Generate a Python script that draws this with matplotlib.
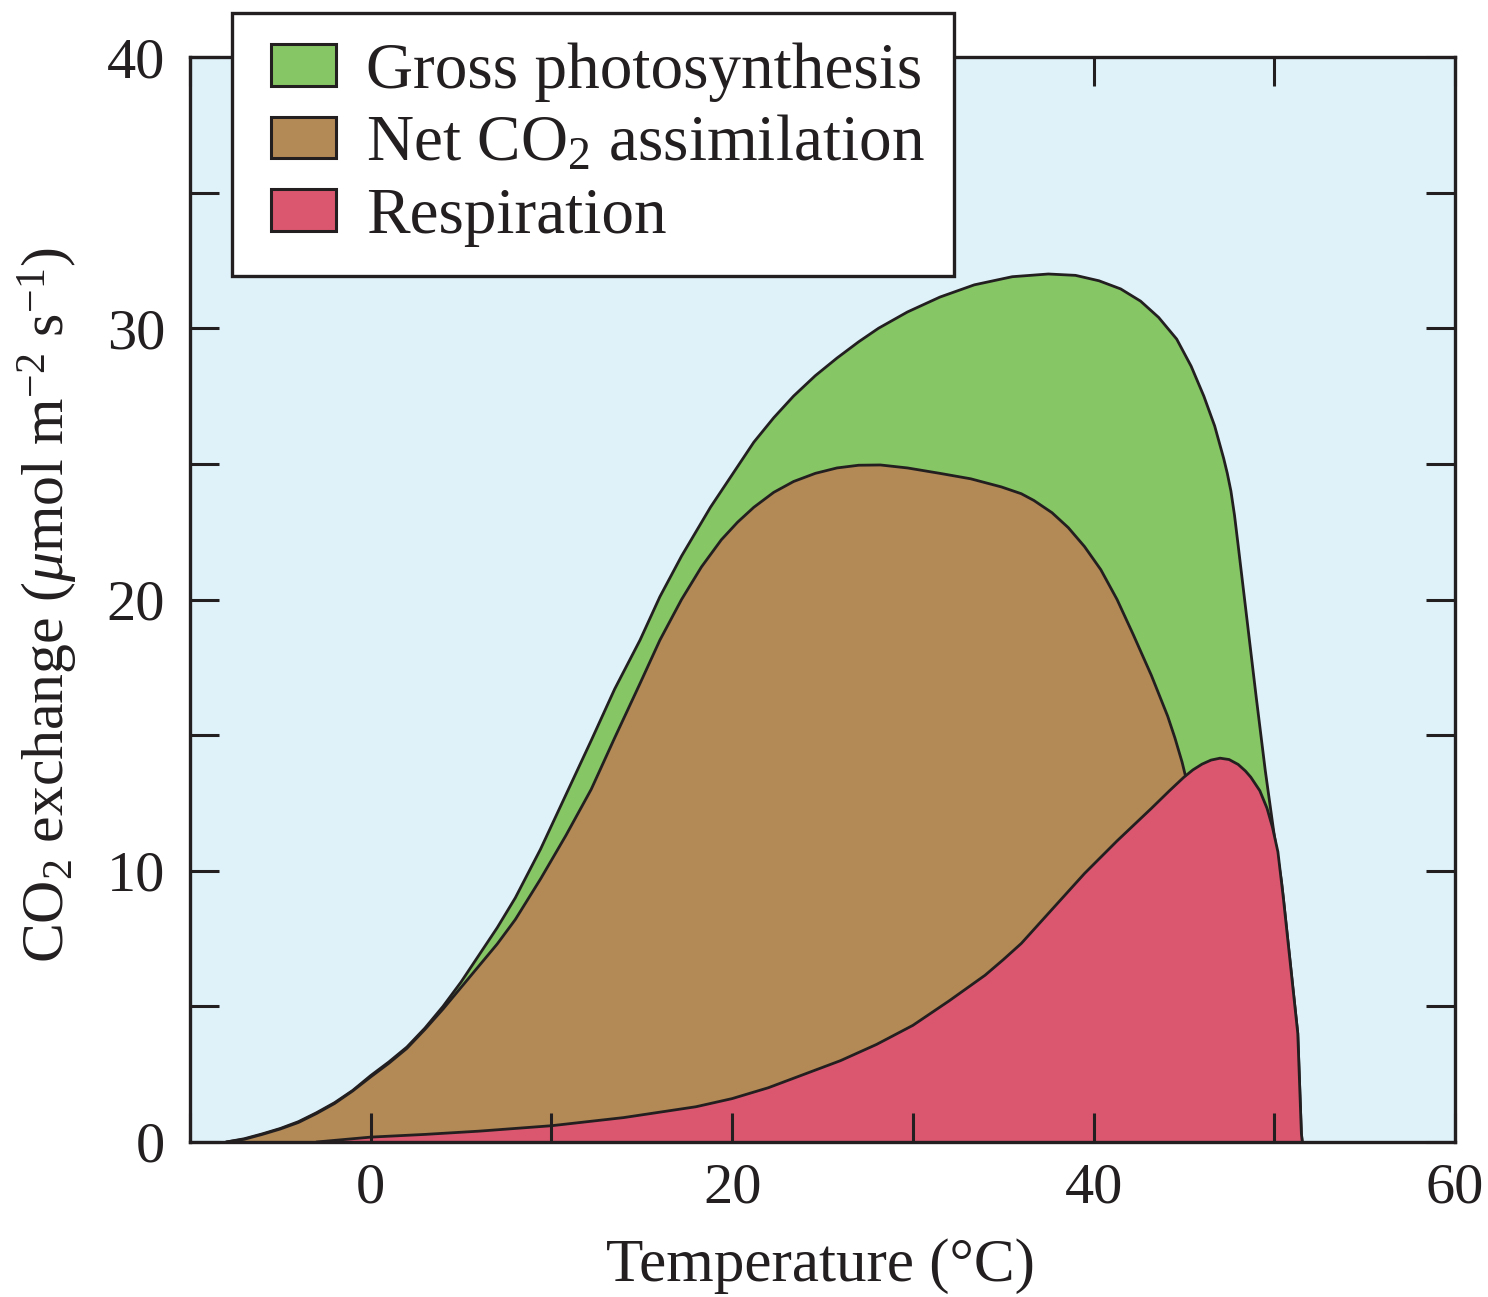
import matplotlib
matplotlib.use("Agg")
import matplotlib.pyplot as plt
from matplotlib.patches import Patch
from matplotlib.legend_handler import HandlerPatch
from matplotlib.ticker import MultipleLocator

plt.rcParams['font.family'] = ['Liberation Serif', 'DejaVu Serif']
plt.rcParams['mathtext.fontset'] = 'custom'
plt.rcParams['mathtext.rm'] = 'Liberation Serif'
plt.rcParams['mathtext.it'] = 'Liberation Serif:italic'

# ---- data ----
gross_t = [-8, -7, -6, -5, -4, -3, -2, -1, 0, 1, 2, 3, 4, 5, 6, 7, 8, 9.4, 10.8, 12.2, 13.5,
           14.9, 16, 17.2, 18.8, 20, 21.2, 22.3, 23.4, 24.6, 25.8, 27, 28.1, 29.7, 31.5, 33.4,
           35.5, 37.5, 39.0, 40.3, 41.5, 42.6, 43.6, 44.6, 45.4, 46.1, 46.7, 47.2, 47.4, 47.6,
           47.8, 48.0, 48.5, 49.0, 49.5, 50.0, 50.4, 50.5, 50.9, 51.3, 51.5, 51.55]
gross_v = [0, 0.12, 0.3, 0.5, 0.75, 1.08, 1.45, 1.9, 2.45, 2.95, 3.5, 4.2, 5.0, 5.9, 6.9, 7.9,
           9.0, 10.8, 12.8, 14.8, 16.7, 18.5, 20.1, 21.6, 23.4, 24.6, 25.8, 26.7, 27.5, 28.25,
           28.9, 29.5, 30.0, 30.6, 31.15, 31.6, 31.9, 32.0, 31.95, 31.75, 31.45, 31.0, 30.4,
           29.6, 28.6, 27.5, 26.4, 25.2, 24.65, 24.0, 23.1, 22.0, 19.2, 16.4, 13.7, 11.3, 9.6,
           9.0, 6.5, 4.0, 0.3, 0]

net_t = [-8, -7, -6, -5, -4, -3, -2, -1, 0, 1, 2, 3, 4, 5, 6, 7, 8, 9.4, 10.8, 12.2, 13.5, 14.9,
         16, 17.2, 18.3, 19.4, 20.3, 21.2, 22.3, 23.4, 24.6, 25.8, 27, 28.2, 29.7, 31.5, 33.2,
         34.9, 36.0, 36.7, 37.7, 38.6, 39.5, 40.4, 41.3, 42.2, 43.2, 44.1, 44.5, 44.9, 46, 47,
         48, 49, 49.5]
net_v = [0, 0.1, 0.28, 0.48, 0.72, 1.05, 1.42, 1.88, 2.4, 2.9, 3.45, 4.15, 4.9, 5.7, 6.5, 7.3,
         8.2, 9.7, 11.3, 13.0, 14.9, 16.9, 18.5, 20.0, 21.2, 22.2, 22.85, 23.4, 23.95, 24.35,
         24.65, 24.85, 24.95, 24.96, 24.85, 24.65, 24.45, 24.15, 23.9, 23.65, 23.2, 22.65,
         21.95, 21.1, 20.0, 18.7, 17.2, 15.7, 14.9, 14.0, 11.0, 8.0, 5.0, 2.0, 0]

resp_t = [-3, -2, -1, 0, 3, 6, 10, 14, 18, 20, 22, 24, 26, 28, 30, 32, 34, 35, 36, 37.6, 39.5,
          41.3, 43.2, 44.2, 45.0, 45.5, 46.0, 46.5, 47.0, 47.5, 48.0, 48.4, 48.7, 49.2, 49.6,
          49.9, 50.2, 50.5, 50.9, 51.3, 51.5, 51.55]
resp_v = [0, 0.06, 0.12, 0.18, 0.28, 0.4, 0.6, 0.9, 1.3, 1.6, 2.0, 2.5, 3.0, 3.6, 4.3, 5.2, 6.15,
          6.72, 7.32, 8.5, 9.9, 11.1, 12.3, 12.95, 13.45, 13.72, 13.93, 14.08, 14.15, 14.1,
          13.92, 13.68, 13.45, 12.95, 12.3, 11.6, 10.7, 9.0, 6.5, 4.0, 0.3, 0]

series_labels = ['Gross photosynthesis', 'Net CO$_2$ assimilation', 'Respiration']
x_ticks = [0, 20, 40, 60]
y_ticks = [0, 10, 20, 30, 40]

# ---- style ----
INK = '#231f20'
GREEN = '#86c665'
BROWN = '#b38956'
RED = '#db5770'
BG = '#dff2fa'

fig = plt.figure(figsize=(14.88, 12.97), dpi=100)
ax = fig.add_axes([190 / 1488, 1 - 1142 / 1297, (1455 - 190) / 1488, (1142 - 57) / 1297])
ax.set_facecolor(BG)

lw = 2.0
kw = dict(color=INK, lw=lw, solid_joinstyle='round', solid_capstyle='round')
ax.fill_between(gross_t, 0, gross_v, color=GREEN, lw=0, zorder=1)
ax.plot(gross_t, gross_v, zorder=1.1, **kw)
ax.fill_between(net_t, 0, net_v, color=BROWN, lw=0, zorder=1.2)
ax.plot(net_t, net_v, zorder=1.3, **kw)
ax.fill_between(resp_t, 0, resp_v, color=RED, lw=0, zorder=1.4)
ax.plot(resp_t, resp_v, zorder=1.5, **kw)

ax.set_xlim(-10, 60)
ax.set_ylim(0, 40)
ax.set_xticks(x_ticks)
ax.set_yticks(y_ticks)
ax.xaxis.set_minor_locator(MultipleLocator(10))
ax.yaxis.set_minor_locator(MultipleLocator(5))

for s in ax.spines.values():
    s.set_linewidth(2.4)
    s.set_color(INK)
    s.set_zorder(3)

ax.tick_params(which='both', direction='in', length=21, width=2.2, color=INK,
               top=True, right=True)
ax.tick_params(axis='x', which='major', labelsize=42, pad=15, labelcolor=INK)
ax.tick_params(axis='y', which='major', labelsize=42, pad=18, labelcolor=INK)

fig.text(820 / 1488, 1 - 1281 / 1297, 'Temperature (°C)', fontsize=44, color=INK,
         ha='center', va='baseline')
fig.text(48 / 1488, 1 - 605 / 1297, 'CO$_2$ exchange ($\\mu$mol m$^{-2}$ s$^{-1}$)',
         fontsize=43, color=INK, rotation=90, ha='center', va='center')

handles = [Patch(facecolor=c, edgecolor=INK, linewidth=2.2) for c in (GREEN, BROWN, RED)]
leg = ax.legend(handles, series_labels, loc='upper left',
                bbox_to_anchor=(232 / 1488, 1 - 13 / 1297), bbox_transform=fig.transFigure,
                borderaxespad=0, fontsize=47, frameon=True, fancybox=False,
                framealpha=1, edgecolor=INK, handlelength=1.15, handleheight=0.6,
                handletextpad=0.45, labelspacing=0.2, borderpad=0.45,
                handler_map={Patch: HandlerPatch(xpad=0.15)})
leg.get_frame().set_linewidth(2.4)
for t in leg.get_texts():
    t.set_color(INK)
leg.set_zorder(10)

fig.savefig('out.png', dpi=100)
